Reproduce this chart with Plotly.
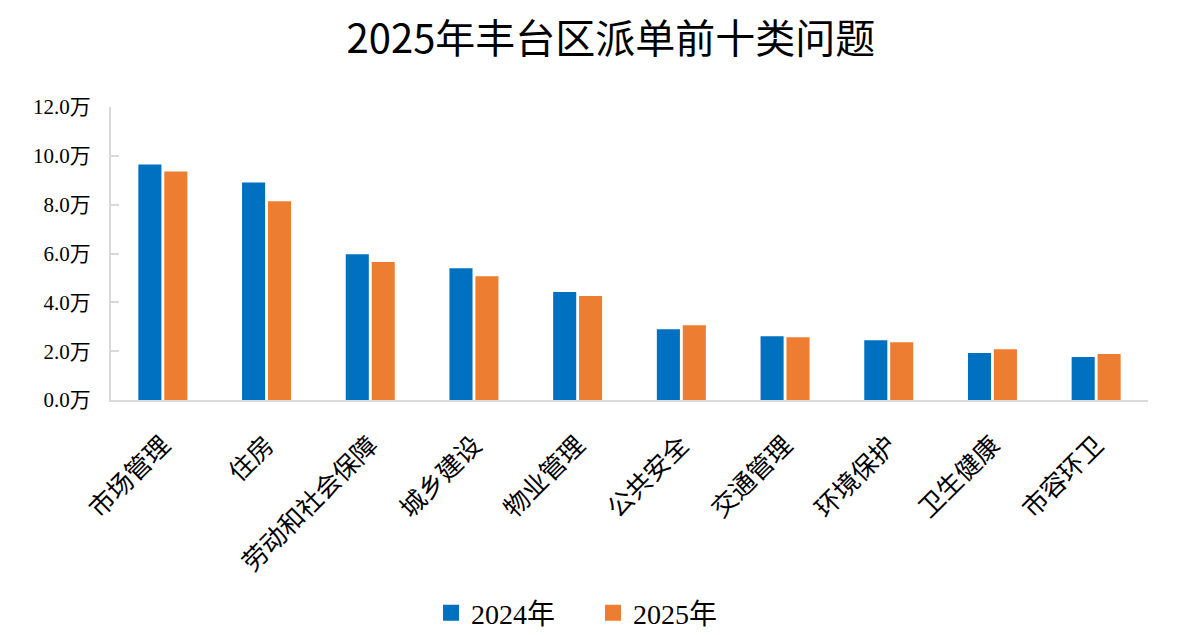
import plotly.graph_objects as go

# 派单前十类问题（单位：万）
categories = ["市场管理", "住房", "劳动和社会保障", "城乡建设", "物业管理",
              "公共安全", "交通管理", "环境保护", "卫生健康", "市容环卫"]
values_2024 = [9.65, 8.91, 5.97, 5.40, 4.42, 2.90, 2.61, 2.45, 1.92, 1.76]
values_2025 = [9.36, 8.14, 5.65, 5.07, 4.26, 3.06, 2.57, 2.37, 2.08, 1.88]

tick_vals = [0, 2, 4, 6, 8, 10, 12]
tick_text = ["0.0万", "2.0万", "4.0万", "6.0万", "8.0万", "10.0万", "12.0万"]

SERIF = "Liberation Serif, Times New Roman, Noto Sans CJK SC, serif"
BLUE = "#0070C0"
ORANGE = "#ED7D31"

fig = go.Figure()
fig.add_trace(go.Bar(name="2024年", x=categories, y=values_2024,
                     marker_color=BLUE, marker_line_width=0, showlegend=False))
fig.add_trace(go.Bar(name="2025年", x=categories, y=values_2025,
                     marker_color=ORANGE, marker_line_width=0, showlegend=False))
# legend entries with bigger square swatches
for name, color in [("2024年", BLUE), ("2025年", ORANGE)]:
    fig.add_trace(go.Scatter(name=name, x=[None], y=[None], mode="markers",
                             marker=dict(symbol="square", size=18, color=color)))

fig.update_layout(
    width=1180, height=635,
    paper_bgcolor="white", plot_bgcolor="white",
    margin=dict(l=103, r=40, t=99, b=243),
    barmode="group", bargap=0.5, bargroupgap=0.11,
    title=dict(text="2025年丰台区派单前十类问题", x=0.511, xanchor="center",
               y=0.951, yanchor="middle",
               font=dict(family="Noto Sans CJK SC", size=40, color="black")),
    legend=dict(orientation="h", xref="container", yref="container",
                x=0.3585, xanchor="left", y=0.047, yanchor="middle",
                font=dict(family=SERIF, size=28, color="black"),
                entrywidth=117, entrywidthmode="pixels", traceorder="normal"),
    xaxis=dict(showline=True, linecolor="#D9D9D9", linewidth=2, automargin=False,
               tickangle=-45, ticks="", ticklabelstandoff=18,
               tickfont=dict(family=SERIF, size=25.5, color="black")),
    yaxis=dict(range=[0, 12], tickvals=tick_vals, ticktext=tick_text,
               showgrid=False, zeroline=False, automargin=False,
               showline=True, linecolor="#D9D9D9", linewidth=2,
               ticks="inside", ticklen=8, tickcolor="#D9D9D9", tickwidth=2,
               ticklabelstandoff=14,
               tickfont=dict(family=SERIF, size=21, color="black")),
)

fig.write_html("out.html")
